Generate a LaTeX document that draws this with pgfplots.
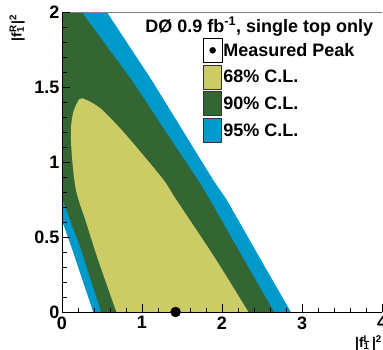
\documentclass[border=0pt]{standalone}
\usepackage{pgfplots}
\pgfplotsset{compat=1.18}
\usepackage{fontspec}
\setmainfont{Liberation Sans}
\definecolor{c68}{RGB}{204,204,102}
\definecolor{c90}{RGB}{51,102,51}
\definecolor{c95}{RGB}{0,153,204}
\begin{document}
\begin{tikzpicture}
\begin{axis}[
  width=320pt, height=300pt, scale only axis,
  xmin=0, xmax=4, ymin=0, ymax=2,
  axis x line*=bottom, axis y line*=left,
  axis line style={black, line width=1pt},
  axis on top, clip=false,
  xtick={0,1,2,3,4}, xticklabels={0,1,2,3,4},
  ytick={0,0.5,1,1.5,2}, yticklabels={0,0.5,1,1.5,2},
  minor x tick num=4, minor y tick num=4,
  tick align=inside,
  major tick length=8pt, minor tick length=4.5pt,
  tick style={black, line width=0.9pt},
  /pgf/number format/assume math mode=true,
  tick label style={font=\bfseries\fontsize{18}{18}\selectfont},
  xticklabel style={yshift=-1pt},
  yticklabel style={xshift=1pt},
  ylabel={|f\rlap{\textsuperscript{R}}\textsubscript{1}\,|\textsuperscript{2}},
  ylabel style={at={(axis description cs:-0.14,1.003)}, anchor=east, rotate=0, font=\bfseries\fontsize{14}{14}\selectfont},
  xlabel={|f\rlap{\textsuperscript{L}}\textsubscript{1}\,|\textsuperscript{2}},
  xlabel style={at={(axis description cs:0.905,-0.103)}, anchor=west, font=\bfseries\fontsize{14}{14}\selectfont},
  legend style={draw=none, fill=none, at={(rel axis cs:0.4406,0.913)}, anchor=north west,
    inner sep=0pt, outer sep=0pt, row sep=2pt,
    nodes={inner sep=1pt, font=\bfseries\fontsize{18}{18}\selectfont}},
  legend cell align=left,
]
% 95% C.L.
\addplot[fill=c95, draw=none, forget plot] coordinates {
 (0,0.61) (0,2) (0.56,2) (1.12,1.547) (1.52,1.2) (1.89,0.88) (2.06,0.747) (2.43,0.4) (2.86,0) (0.39,0) (0.12,0.43)
} -- cycle;
% 90% C.L.
\addplot[fill=c90, draw=none, forget plot] coordinates {
 (0,0.76) (0,2) (0.245,2) (0.87,1.547) (1.30,1.2) (1.70,0.88) (1.85,0.747) (2.22,0.4) (2.65,0) (0.49,0) (0.23,0.43)
} -- cycle;
% 68% C.L.
\addplot[fill=c68, draw=none, forget plot, smooth] coordinates {
 (0.68,0) (0.45,0.35) (0.30,0.60) (0.18,0.80) (0.13,1.0) (0.11,1.2) (0.14,1.33) (0.22,1.42) (0.30,1.415) (0.475,1.36) (0.70,1.24) (0.93,1.10) (1.27,0.88) (1.43,0.747) (1.90,0.37) (2.33,0)
} -- cycle;
% measured peak
\addplot[only marks, mark=*, mark size=5pt, black, forget plot] coordinates {(1.42,0)};
\addlegendimage{legend image code/.code={\path (0pt,-12pt) rectangle (18.5pt,12pt); \fill[black] (9.25pt,0pt) circle (3pt);}}
\addlegendentry{Measured Peak}
\addlegendimage{legend image code/.code={\draw[fill=c68, draw=black!80, line width=0.8pt] (0pt,-12pt) rectangle (18.5pt,12pt);}}
\addlegendentry{68\% C.L.}
\addlegendimage{legend image code/.code={\draw[fill=c90, draw=black!80, line width=0.8pt] (0pt,-12pt) rectangle (18.5pt,12pt);}}
\addlegendentry{90\% C.L.}
\addlegendimage{legend image code/.code={\draw[fill=c95, draw=black!80, line width=0.8pt] (0pt,-12pt) rectangle (18.5pt,12pt);}}
\addlegendentry{95\% C.L.}
\draw[gray, line width=1pt] (rel axis cs:0,1) -- (rel axis cs:1,1);
\node[anchor=east, font=\bfseries\fontsize{18}{18}\selectfont] at (rel axis cs:0.983,0.951) {DØ 0.9 fb\textsuperscript{-1}, single top only};
\end{axis}
\pgfresetboundingbox
\path[use as bounding box] ([shift={(-62pt,-37pt)}]current axis.south west) rectangle ([shift={(1pt,12pt)}]current axis.north east);
\end{tikzpicture}
\end{document}
